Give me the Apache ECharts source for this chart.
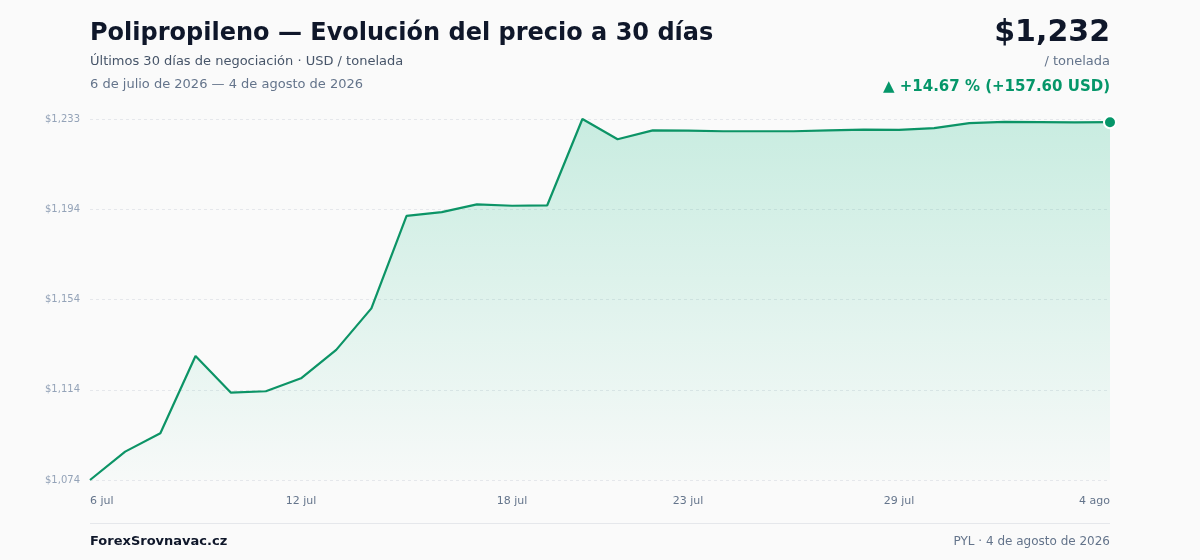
<!DOCTYPE html>
<html>
<head>
<meta charset="utf-8">
<script src="https://cdn.jsdelivr.net/npm/echarts@6/dist/echarts.min.js"></script>
<style>
  html, body { margin: 0; padding: 0; background: #fafafa; }
  #chart { width: 1200px; height: 560px; }
</style>
</head>
<body>
<div id="chart"></div>
<script>
// 30 días de negociación
var dates = ['6 jul', '7 jul', '8 jul', '9 jul', '10 jul', '11 jul', '12 jul', '13 jul', '14 jul', '15 jul',
  '16 jul', '17 jul', '18 jul', '19 jul', '20 jul', '21 jul', '22 jul', '23 jul', '24 jul', '25 jul',
  '26 jul', '27 jul', '28 jul', '29 jul', '30 jul', '31 jul', '1 ago', '2 ago', '3 ago', '4 ago'];
var prices = [1074.3, 1086.8, 1094.9, 1128.9, 1112.8, 1113.4, 1119.1, 1131.6, 1149.9, 1190.6,
  1192.3, 1195.7, 1195.1, 1195.3, 1233.3, 1224.4, 1228.3, 1228.2, 1227.9, 1227.9,
  1227.9, 1228.3, 1228.6, 1228.5, 1229.3, 1231.5, 1232.0, 1231.9, 1231.8, 1231.9];
var labelIdx = [0, 6, 12, 17, 23, 29]; // fechas visibles en el eje
var yMin = 1074.3, yMax = 1233.3;

var font = 'DejaVu Sans';
var chart = echarts.init(document.getElementById('chart'));
var last = prices.length - 1;

var option = {
    backgroundColor: '#fafafa',
    textStyle: { fontFamily: font },
    animation: false,
    grid: { left: 90, right: 90, top: 119, bottom: 80 },
    xAxis: {
        type: 'category',
        data: dates,
        boundaryGap: false,
        axisLine: { show: false },
        axisTick: { show: false },
        axisLabel: {
            color: '#64748b',
            fontSize: 11,
            margin: 16,
            alignMinLabel: 'left',
            alignMaxLabel: 'right',
            interval: function (i) { return labelIdx.indexOf(i) >= 0; }
        }
    },
    yAxis: {
        type: 'value',
        min: yMin,
        max: yMax,
        interval: (yMax - yMin) / 4,
        axisLine: { show: false },
        axisTick: { show: false },
        axisLabel: {
            color: '#94a3b8',
            fontSize: 10,
            margin: 10,
            formatter: function (v) { return '$' + Math.round(v).toLocaleString('en-US'); }
        },
        splitLine: { lineStyle: { color: '#e5e7eb', type: [3, 3] } }
    },
    series: [
        {
            name: 'precio',
            type: 'line',
            data: prices,
            showSymbol: false,
            lineStyle: { color: '#0c9466', width: 2.2 },
            areaStyle: {
                color: new echarts.graphic.LinearGradient(0, 0, 0, 1, [
                    { offset: 0, color: 'rgba(16,185,129,0.30)' },
                    { offset: 1, color: 'rgba(16,185,129,0.02)' }
                ])
            }
        },
        {
            name: 'último',
            type: 'scatter',
            data: [[last, prices[last]]],
            symbolSize: 12,
            itemStyle: { color: '#059669', borderColor: '#ffffff', borderWidth: 2, opacity: 1 },
            z: 5
        }
    ],
    graphic: [
        { type: 'text', left: 90, top: 22, style: { text: 'Polipropileno — Evolución del precio a 30 días', font: 'bold 24px ' + font, fill: '#0f172a' } },
        { type: 'text', left: 90, top: 55, style: { text: 'Últimos 30 días de negociación · USD / tonelada', font: '13px ' + font, fill: '#475569' } },
        { type: 'text', left: 90, top: 78, style: { text: '6 de julio de 2026 — 4 de agosto de 2026', font: '13px ' + font, fill: '#64748b' } },
        { type: 'text', right: 90, top: 18, style: { text: '$1,232', font: 'bold 30px ' + font, fill: '#0f172a' } },
        { type: 'text', right: 90, top: 55, style: { text: '/ tonelada', font: '13px ' + font, fill: '#64748b' } },
        { type: 'text', right: 90, top: 80, style: { text: '▲ +14.67 % (+157.60 USD)', font: 'bold 15px ' + font, fill: '#059669' } },
        { type: 'rect', shape: { x: 90, y: 523, width: 1020, height: 1 }, style: { fill: '#e5e7eb' } },
        { type: 'text', left: 90, top: 535, style: { text: 'ForexSrovnavac.cz', font: 'bold 13px ' + font, fill: '#0f172a' } },
        { type: 'text', right: 90, top: 536, style: { text: 'PYL · 4 de agosto de 2026', font: '12px ' + font, fill: '#64748b' } }
    ]
};
chart.setOption(option);
</script>
</body>
</html>
